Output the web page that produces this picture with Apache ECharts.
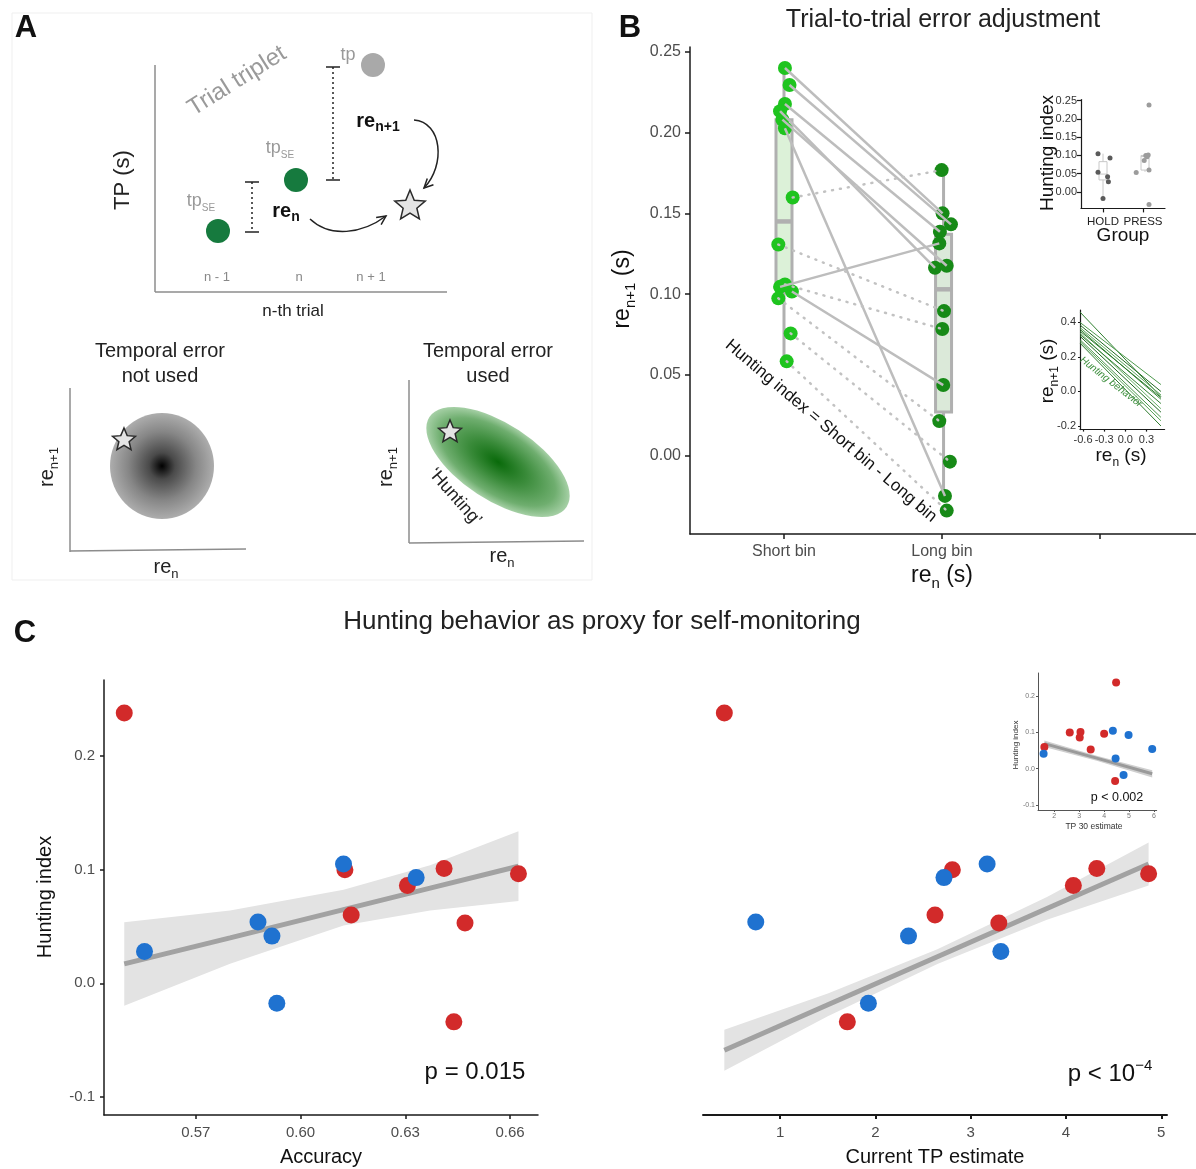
<!DOCTYPE html>
<html>
<head>
<meta charset="utf-8">
<script src="https://cdn.jsdelivr.net/npm/echarts@6.0.0/dist/echarts.min.js"></script>
<style>
html,body{margin:0;padding:0;background:#fff;}
#chart{width:1196px;height:1169px;}
</style>
</head>
<body>
<div id="chart"></div>
<script>
var FONT = 'Liberation Sans, Arial, sans-serif';

// ---- panel B : short / long bin re(n+1), one entry per participant ----
var binNames = ['Short bin', 'Long bin'];
var shortBin = [0.240, 0.2295, 0.2177, 0.2133, 0.208, 0.2027, 0.1045, 0.1016, 0.1598, 0.1307, 0.106, 0.0974, 0.0757, 0.0584];
var shortJitter = [1.006, 1.035, 1.006, 0.975, 0.99, 1.006, 0.975, 1.05, 1.055, 0.964, 1.006, 0.964, 1.042, 1.017];
var longBin = [0.150, 0.1432, 0.1386, 0.1163, 0.1176, -0.0249, 0.1314, 0.0437, 0.1768, 0.0895, 0.0784, 0.0214, -0.0037, -0.034];
var longJitter = [2.004, 2.057, 1.987, 1.956, 2.03, 2.019, 1.983, 2.008, 1.998, 2.013, 2.002, 1.983, 2.05, 2.03];
var pairSolid = [1, 1, 1, 1, 1, 1, 1, 1, 0, 0, 0, 0, 0, 0];
// box: low whisker, q1, median, q3, high whisker
var shortBox = [0.058, 0.103, 0.145, 0.208, 0.240];
var longBox = [-0.025, 0.027, 0.103, 0.137, 0.177];

// ---- participants (red = PRESS, blue = HOLD) ----
var redHunting = [0.238, 0.100, 0.060, 0.086, 0.101, 0.0965, 0.053, -0.034];
var redAccuracy = [0.5495, 0.6127, 0.6145, 0.6306, 0.6411, 0.6624, 0.6471, 0.6439];
var redTpEstimate = [0.414, 2.807, 2.625, 4.077, 4.323, 4.867, 3.295, 1.705];
var redTp30 = [4.48, 2.62, 1.60, 3.02, 3.05, 4.0, 3.46, 4.44];
var redJitter = [2.15, 2.07, 2.15, 2.03, 2.13, 2.10, 1.83, 2.15];

var blueHunting = [0.028, 0.054, 0.0415, -0.0176, 0.105, 0.093];
var blueAccuracy = [0.5553, 0.5878, 0.5918, 0.5932, 0.6123, 0.6331];
var blueTpEstimate = [3.316, 0.744, 2.347, 1.926, 3.172, 2.719];
var blueTp30 = [4.46, 5.93, 1.57, 4.78, 4.35, 4.98];
var blueJitter = [1.135, 0.875, 1.115, 1.0, 0.875, 1.175];

// ---- inset: hunting index by group ----
var groupNames = ['HOLD', 'PRESS'];
var holdBox = [-0.018, 0.033, 0.049, 0.083, 0.105];
var pressBox = [0.055, 0.060, 0.097, 0.100, 0.102];

// ---- inset: individual re(n) -> re(n+1) fits ----
var fitLineX = [-0.643, 0.505];
var fitLineStart = [0.46, 0.40, 0.385, 0.37, 0.36, 0.35, 0.34, 0.33, 0.32, 0.30, 0.29, 0.28];
var fitLineEnd = [-0.03, 0.04, 0.0, -0.02, -0.045, -0.035, -0.10, -0.07, -0.12, -0.15, -0.17, -0.20];

// ---- regression fits (line + ci band) ----
var accFitX = [0.5495, 0.5798, 0.6123, 0.6371, 0.6624];
var accFit = [0.017, 0.040, 0.0648, 0.0837, 0.103];
var accFitHi = [0.0538, 0.0641, 0.0824, 0.1038, 0.1338];
var accFitLo = [-0.0197, 0.0171, 0.0509, 0.0641, 0.0724];

var tpFitX = [0.414, 1.5, 2.65, 3.8, 4.867];
var tpFit = [-0.059, -0.019, 0.0234, 0.0658, 0.105];
var tpFitHi = [-0.041, -0.009, 0.030, 0.076, 0.124];
var tpFitLo = [-0.077, -0.029, 0.017, 0.056, 0.086];

var tp30FitX = [1.6, 3.7, 5.93];
var tp30Fit = [0.069, 0.029, -0.014];
var tp30FitHi = [0.078, 0.036, -0.004];
var tp30FitLo = [0.060, 0.022, -0.024];

// tick values
var bTicksY = [0, 0.05, 0.10, 0.15, 0.20, 0.25];
var groupTicksY = [0, 0.05, 0.10, 0.15, 0.20, 0.25];
var fitTicksX = [-0.6, -0.3, 0.0, 0.3];
var fitTicksY = [-0.2, 0.0, 0.2, 0.4];
var cTicksY = [-0.1, 0.0, 0.1, 0.2];
var accTicks = [0.57, 0.60, 0.63, 0.66];
var tpTicks = [1, 2, 3, 4, 5];
var tp30Ticks = [2, 3, 4, 5, 6];

var zip = function(xs, ys){
	var arr = [];
	for (var i = 0; i < xs.length; i++) { arr.push([xs[i], ys[i]]); }
	return arr;
};

var valueAxis = function(grid, min, max, ticks, o){
	o = o || {};
	var lc = o.lineColor || '#1a1a1a';
	var lw = o.lineWidth || 1.5;
	return {
		type: 'value', gridIndex: grid, min: min, max: max, show: o.show !== false,
		splitLine: {show: false},
		axisLine: {show: true, onZero: false, lineStyle: {color: lc, width: lw}},
		axisTick: {show: true, length: o.tickLen || 4, customValues: ticks, lineStyle: {color: lc, width: lw}},
		axisLabel: {customValues: ticks, formatter: o.formatter, fontSize: o.fontSize || 15,
			color: o.labelColor || '#4d4d4d', margin: o.margin || 8, fontFamily: FONT}
	};
};

var fixed = function(n){ return function(v){ return v.toFixed(n); }; };

var boxRender = function(boxW, stroke, fills, lw, medW){
	return function(params, api){
		var x = api.value(0);
		var lo = api.coord([x, api.value(1)]), q1 = api.coord([x, api.value(2)]);
		var md = api.coord([x, api.value(3)]), q3 = api.coord([x, api.value(4)]);
		var hi = api.coord([x, api.value(5)]);
		var cx = lo[0];
		return {type: 'group', children: [
			{type: 'line', shape: {x1: cx, y1: lo[1], x2: cx, y2: q1[1]}, style: {stroke: stroke, lineWidth: lw}},
			{type: 'line', shape: {x1: cx, y1: q3[1], x2: cx, y2: hi[1]}, style: {stroke: stroke, lineWidth: lw}},
			{type: 'rect', shape: {x: cx - boxW / 2, y: q3[1], width: boxW, height: q1[1] - q3[1]},
				style: {fill: fills[params.dataIndex], stroke: stroke, lineWidth: lw}},
			{type: 'line', shape: {x1: cx - boxW / 2, y1: md[1], x2: cx + boxW / 2, y2: md[1]}, style: {stroke: stroke, lineWidth: medW}}
		]};
	};
};

var bandRender = function(xs, hi, lo, fill){
	return function(params, api){
		if (params.dataIndex !== 0) { return null; }
		var pts = [];
		for (var i = 0; i < xs.length; i++) { pts.push(api.coord([xs[i], hi[i]])); }
		for (var j = xs.length - 1; j >= 0; j--) { pts.push(api.coord([xs[j], lo[j]])); }
		return {type: 'polygon', shape: {points: pts}, style: {fill: fill}};
	};
};

var fitSeries = function(grid, xs, fit, hi, lo, band, lineColor, width){
	return [
		{type: 'custom', xAxisIndex: grid, yAxisIndex: grid, renderItem: bandRender(xs, hi, lo, band),
			data: zip(xs, fit), silent: true, z: 1},
		{type: 'line', xAxisIndex: grid, yAxisIndex: grid, data: zip(xs, fit), symbol: 'none', silent: true,
			lineStyle: {color: lineColor, width: width}, z: 2}
	];
};

var scatter = function(grid, xs, ys, color, size, z){
	return {type: 'scatter', xAxisIndex: grid, yAxisIndex: grid, data: zip(xs, ys), symbolSize: size,
		itemStyle: {color: color, opacity: 1}, silent: true, z: z || 3};
};

// ---- graphic helpers ----
var txt = function(x, y, text, o){
	o = o || {};
	return {type: 'text', x: x, y: y, rotation: o.rotation || 0, z: 60,
		style: {text: text, fontSize: o.fontSize || 16, fontFamily: FONT, fill: o.fill || '#111',
			fontWeight: o.bold ? 'bold' : 'normal', fontStyle: o.italic ? 'italic' : 'normal',
			align: o.align || 'center', verticalAlign: 'middle', rich: o.rich}};
};

var subRich = function(size, fill, bold, subScale){
	var s = Math.round(size * (subScale || 0.65));
	return {
		a: {fontSize: size, lineHeight: Math.round(size * 1.35), fontFamily: FONT, fill: fill, fontWeight: bold ? 'bold' : 'normal'},
		b: {fontSize: s, lineHeight: s, fontFamily: FONT, fill: fill, fontWeight: bold ? 'bold' : 'normal', verticalAlign: 'bottom'},
		p: {fontSize: s, lineHeight: s, fontFamily: FONT, fill: fill, verticalAlign: 'top'}
	};
};

var subTxt = function(x, y, base, sub, tail, size, o){
	o = o || {};
	var t = '{a|' + base + '}{b|' + sub + '}' + (tail ? '{a|' + tail + '}' : '');
	return txt(x, y, t, {rotation: o.rotation, rich: subRich(size, o.fill || '#111', o.bold, o.subScale)});
};

var seg = function(x1, y1, x2, y2, color, w, dash){
	return {type: 'line', z: 55, shape: {x1: x1, y1: y1, x2: x2, y2: y2},
		style: {stroke: color || '#222', lineWidth: w || 1.5, lineDash: dash || null}};
};

var starPts = function(cx, cy, R, r){
	var pts = [];
	for (var i = 0; i < 10; i++) {
		var a = -Math.PI / 2 + i * Math.PI / 5;
		var rad = i % 2 ? r : R;
		pts.push([cx + rad * Math.cos(a), cy + rad * Math.sin(a)]);
	}
	return pts;
};

var star = function(cx, cy, R){
	return {type: 'polygon', z: 58, shape: {points: starPts(cx, cy, R, R * 0.45)},
		style: {fill: '#e4e4e4', stroke: '#2a2a2a', lineWidth: 1.5}};
};

var arrowHead = function(tx, ty, fx, fy, len){
	var ang = Math.atan2(ty - fy, tx - fx);
	var a1 = ang + Math.PI - 0.45, a2 = ang + Math.PI + 0.45;
	return {type: 'polyline', z: 55, shape: {points: [
		[tx + len * Math.cos(a1), ty + len * Math.sin(a1)], [tx, ty], [tx + len * Math.cos(a2), ty + len * Math.sin(a2)]
	]}, style: {stroke: '#222', lineWidth: 1.5, fill: 'none'}};
};

var curve = function(x1, y1, c1x, c1y, c2x, c2y, x2, y2){
	return {type: 'bezierCurve', z: 55, shape: {x1: x1, y1: y1, cpx1: c1x, cpy1: c1y, cpx2: c2x, cpy2: c2y, x2: x2, y2: y2},
		style: {stroke: '#222', lineWidth: 1.5, fill: 'none'}};
};

// a blurred blob: circle with radial fill, stretched and turned
var blob = function(cx, cy, rx, ry, rot, stops){
	return {type: 'circle', z: 50, x: cx, y: cy, rotation: rot, scaleX: rx / 40, scaleY: ry / 40,
		shape: {cx: 0, cy: 0, r: 40},
		style: {fill: {type: 'radial', x: 0.5, y: 0.5, r: 0.5, colorStops: stops}}};
};

var graphics = [
	// panel A frame and letters
	{type: 'rect', z: 40, shape: {x: 12, y: 13, width: 580, height: 567}, style: {fill: 'none', stroke: '#efefef', lineWidth: 1}},
	txt(26, 28, 'A', {fontSize: 31, bold: true}),
	txt(630, 28, 'B', {fontSize: 31, bold: true}),
	txt(25, 633, 'C', {fontSize: 31, bold: true}),
	txt(943, 20, 'Trial-to-trial error adjustment', {fontSize: 25, fill: '#222'}),
	txt(602, 622, 'Hunting behavior as proxy for self-monitoring', {fontSize: 26, fill: '#222'}),

	// A : trial triplet sketch
	seg(155, 65, 155, 292, '#8c8c8c', 1.5),
	seg(155, 292, 447, 292, '#8c8c8c', 1.5),
	txt(123, 180, 'TP (s)', {fontSize: 22, rotation: Math.PI / 2, fill: '#222'}),
	txt(293, 311, 'n-th trial', {fontSize: 17, fill: '#222'}),
	txt(217, 277, 'n - 1', {fontSize: 13, fill: '#888'}),
	txt(299, 277, 'n', {fontSize: 13, fill: '#888'}),
	txt(371, 277, 'n + 1', {fontSize: 13, fill: '#888'}),
	txt(237, 81, 'Trial triplet', {fontSize: 24, fill: '#9a9a9a', rotation: 0.56}),
	{type: 'circle', z: 56, shape: {cx: 218, cy: 231, r: 12}, style: {fill: '#167a3e'}},
	{type: 'circle', z: 56, shape: {cx: 296, cy: 180, r: 12}, style: {fill: '#167a3e'}},
	{type: 'circle', z: 56, shape: {cx: 373, cy: 65, r: 12}, style: {fill: '#a9a9a9'}},
	subTxt(201, 201, 'tp', 'SE', '', 18, {fill: '#999', subScale: 0.55}),
	subTxt(280, 148, 'tp', 'SE', '', 18, {fill: '#999', subScale: 0.55}),
	txt(348, 55, 'tp', {fontSize: 18, fill: '#999'}),
	seg(252, 182, 252, 232, '#222', 1.5, [2, 3]),
	seg(245, 182, 259, 182, '#222', 1.5),
	seg(245, 232, 259, 232, '#222', 1.5),
	seg(333, 67, 333, 180, '#222', 1.5, [2, 3]),
	seg(326, 67, 340, 67, '#222', 1.5),
	seg(326, 180, 340, 180, '#222', 1.5),
	subTxt(286, 211, 're', 'n', '', 20, {bold: true, fill: '#111', subScale: 0.7}),
	subTxt(378, 121, 're', 'n+1', '', 20, {bold: true, fill: '#111', subScale: 0.7}),
	star(410, 206, 16),
	curve(310, 219, 330, 238, 362, 234, 386, 216),
	arrowHead(386, 216, 366, 230, 10),
	curve(414, 120, 442, 122, 446, 165, 424, 188),
	arrowHead(424, 188, 440, 172, 10),

	// A : temporal error not used
	txt(160, 351, 'Temporal error', {fontSize: 20, fill: '#222'}),
	txt(160, 376, 'not used', {fontSize: 20, fill: '#222'}),
	seg(70, 388, 70, 552, '#8c8c8c', 1.5),
	seg(70, 551, 246, 549, '#8c8c8c', 1.5),
	blob(162, 466, 52, 53, 0, [
		{offset: 0, color: '#000'}, {offset: 0.25, color: '#4a4a4a'}, {offset: 0.65, color: '#868686'}, {offset: 1, color: '#adadad'}]),
	star(124, 440, 12),
	subTxt(47, 467, 're', 'n+1', '', 20, {rotation: Math.PI / 2, fill: '#222'}),
	subTxt(166, 567, 're', 'n', '', 20, {fill: '#222'}),

	// A : temporal error used
	txt(488, 351, 'Temporal error', {fontSize: 20, fill: '#222'}),
	txt(488, 376, 'used', {fontSize: 20, fill: '#222'}),
	seg(409, 380, 409, 543, '#8c8c8c', 1.5),
	seg(409, 543, 584, 541, '#8c8c8c', 1.5),
	blob(498, 462, 82, 38, -0.58, [
		{offset: 0, color: '#096a0a'}, {offset: 0.4, color: '#3a8b3a'}, {offset: 0.8, color: '#6fae6f'}, {offset: 1, color: '#a6d0a6'}]),
	star(450, 432, 12),
	txt(455, 497, '\u2018Hunting\u2019', {fontSize: 18, fill: '#222', rotation: -0.85}),
	subTxt(386, 467, 're', 'n+1', '', 20, {rotation: Math.PI / 2, fill: '#222'}),
	subTxt(502, 556, 're', 'n', '', 20, {fill: '#222'}),

	// B : labels
	subTxt(623, 289, 're', 'n+1', ' (s)', 23, {rotation: Math.PI / 2, fill: '#111'}),
	subTxt(942, 576, 're', 'n', ' (s)', 23, {fill: '#111'}),
	txt(831, 431, 'Hunting index = Short bin - Long bin', {fontSize: 17, fill: '#111', rotation: -0.705}),
	txt(1048, 153, 'Hunting index', {fontSize: 19, rotation: Math.PI / 2, fill: '#111'}),
	txt(1123, 236, 'Group', {fontSize: 19, fill: '#111'}),
	subTxt(1048, 371, 're', 'n+1', ' (s)', 19, {rotation: Math.PI / 2, fill: '#111'}),
	subTxt(1121, 456, 're', 'n', ' (s)', 19, {fill: '#111'}),
	txt(1111, 382, 'Hunting behavior', {fontSize: 10, italic: true, fill: '#3b8d3b', rotation: -0.66}),

	// C : labels
	txt(45, 897, 'Hunting index', {fontSize: 20, rotation: Math.PI / 2}),
	txt(321, 1157, 'Accuracy', {fontSize: 20}),
	txt(935, 1157, 'Current TP estimate', {fontSize: 20}),
	txt(475, 1072, 'p = 0.015', {fontSize: 24}),
	txt(1110, 1074, '{a|p < 10}{p|\u22124}', {rich: {
		a: {fontSize: 24, lineHeight: 32, fontFamily: FONT, fill: '#111'},
		p: {fontSize: 15, lineHeight: 15, fontFamily: FONT, fill: '#111', verticalAlign: 'top'}}}),
	txt(1117, 798, 'p < 0.002', {fontSize: 12.5}),
	txt(1016, 745, 'Hunting index', {fontSize: 8, rotation: Math.PI / 2, fill: '#333'}),
	txt(1094, 827, 'TP 30 estimate', {fontSize: 8.5, fill: '#333'})
];

// ---- B connection lines ----
var solidPairs = [], dottedPairs = [];
for (var i = 0; i < shortBin.length; i++) {
	var item = {coords: [[shortJitter[i], shortBin[i]], [longJitter[i], longBin[i]]]};
	if (pairSolid[i]) { solidPairs.push(item); } else { dottedPairs.push(item); }
}

var fitColors = ['#2f7f2f', '#4d9a4d', '#1f6b1f', '#5fa95f', '#3a8a3a', '#2a772a', '#68b068', '#347f34', '#1d661d', '#4a954a', '#5aa35a', '#2c7a2c'];
var fitLines = [];
for (var k = 0; k < fitLineStart.length; k++) {
	fitLines.push({coords: [[fitLineX[0], fitLineStart[k]], [fitLineX[1], fitLineEnd[k]]],
		lineStyle: {color: fitColors[k % fitColors.length]}});
}

var series = [
	// B main
	{type: 'custom', xAxisIndex: 0, yAxisIndex: 0, renderItem: boxRender(16, '#b0b0b0', ['#dcf1d8', '#dbe9d9'], 3, 4.5),
		data: [[1].concat(shortBox), [2.01].concat(longBox)], silent: true, z: 1},
	scatter(0, shortJitter, shortBin, '#1fc41f', 14, 2),
	scatter(0, longJitter, longBin, '#178a17', 14, 2),
	{type: 'lines', coordinateSystem: 'cartesian2d', xAxisIndex: 0, yAxisIndex: 0, data: solidPairs, silent: true, z: 3,
		lineStyle: {color: '#bdbdbd', width: 2.5, opacity: 1}},
	{type: 'lines', coordinateSystem: 'cartesian2d', xAxisIndex: 0, yAxisIndex: 0, data: dottedPairs, silent: true, z: 3,
		lineStyle: {color: '#c2c2c2', width: 2.5, opacity: 1, type: [1, 7], cap: 'round'}},

	// B inset : group
	{type: 'custom', xAxisIndex: 1, yAxisIndex: 1, renderItem: boxRender(8, '#c8c8c8', ['none', 'none'], 1, 1),
		data: [[1].concat(holdBox), [2.05].concat(pressBox)], silent: true, z: 1},
	scatter(1, blueJitter, blueHunting, '#5a5a5a', 5),
	scatter(1, redJitter, redHunting, '#9c9c9c', 5),

	// B inset : fits
	{type: 'lines', coordinateSystem: 'cartesian2d', xAxisIndex: 2, yAxisIndex: 2, data: fitLines, silent: true,
		lineStyle: {width: 1, opacity: 1}}
].concat(
	fitSeries(3, accFitX, accFit, accFitHi, accFitLo, '#e3e3e3', '#a2a2a2', 5),
	[scatter(3, redAccuracy, redHunting, '#d22a2a', 17), scatter(3, blueAccuracy, blueHunting, '#1f72d0', 17)],
	fitSeries(4, tpFitX, tpFit, tpFitHi, tpFitLo, '#e3e3e3', '#a2a2a2', 5),
	[scatter(4, redTpEstimate, redHunting, '#d22a2a', 17), scatter(4, blueTpEstimate, blueHunting, '#1f72d0', 17)],
	fitSeries(5, tp30FitX, tp30Fit, tp30FitHi, tp30FitLo, '#cfcfcf', '#9a9a9a', 3),
	[scatter(5, redTp30, redHunting, '#d22a2a', 8), scatter(5, blueTp30, blueHunting, '#1f72d0', 8)]
);

var option = {
	animation: false,
	backgroundColor: '#fff',
	textStyle: {fontFamily: FONT},
	grid: [
		{left: 690, top: 47, width: 506, height: 487, outerBoundsMode: 'none'},
		{left: 1081, top: 99.6, width: 84, height: 108.8, outerBoundsMode: 'none'},
		{left: 1080, top: 310, width: 84.6, height: 119.6, outerBoundsMode: 'none'},
		{left: 104, top: 680, width: 434, height: 435, outerBoundsMode: 'none'},
		{left: 703, top: 680, width: 464, height: 435, outerBoundsMode: 'none'},
		{left: 1038, top: 673, width: 118.7, height: 137, outerBoundsMode: 'none'}
	],
	xAxis: [
		valueAxis(0, 0.405, 3.608, [1, 2, 3], {fontSize: 16, tickLen: 5, margin: 10,
			formatter: function(v){ return binNames[Math.round(v) - 1] || ''; }}),
		valueAxis(1, 0.45, 2.55, [1, 2], {fontSize: 11.5, labelColor: '#222', lineWidth: 1.2, tickLen: 0, margin: 7,
			formatter: function(v){ return groupNames[Math.round(v) - 1] || ''; }}),
		valueAxis(2, -0.643, 0.557, fitTicksX, {fontSize: 11, labelColor: '#333', lineWidth: 1.2, tickLen: 2, margin: 5, formatter: fixed(1)}),
		valueAxis(3, 0.5437, 0.668, accTicks, {fontSize: 15, margin: 10, formatter: fixed(2)}),
		valueAxis(4, 0.19, 5.06, tpTicks, {fontSize: 15, margin: 10, lineWidth: 2, formatter: fixed(0)}),
		valueAxis(5, 1.345, 6.11, tp30Ticks, {fontSize: 7, labelColor: '#777', lineColor: '#555', lineWidth: 1, tickLen: 2, margin: 3, formatter: fixed(0)})
	],
	yAxis: [
		valueAxis(0, -0.0485, 0.253, bTicksY, {fontSize: 16, tickLen: 5, margin: 9, formatter: fixed(2)}),
		valueAxis(1, -0.045, 0.253, groupTicksY, {fontSize: 11, labelColor: '#333', lineWidth: 1.2, tickLen: 0, margin: 4, formatter: fixed(2)}),
		valueAxis(2, -0.221, 0.472, fitTicksY, {fontSize: 11, labelColor: '#333', lineWidth: 1.2, tickLen: 2, margin: 4, formatter: fixed(1)}),
		valueAxis(3, -0.116, 0.267, cTicksY, {fontSize: 15, margin: 9, formatter: fixed(1)}),
		valueAxis(4, -0.116, 0.267, cTicksY, {show: false}),
		valueAxis(5, -0.114, 0.264, cTicksY, {fontSize: 7, labelColor: '#777', lineColor: '#555', lineWidth: 1, tickLen: 2, margin: 3, formatter: fixed(1)})
	],
	graphic: graphics,
	series: series
};

var chart = echarts.init(document.getElementById('chart'));
chart.setOption(option);
</script>
</body>
</html>
